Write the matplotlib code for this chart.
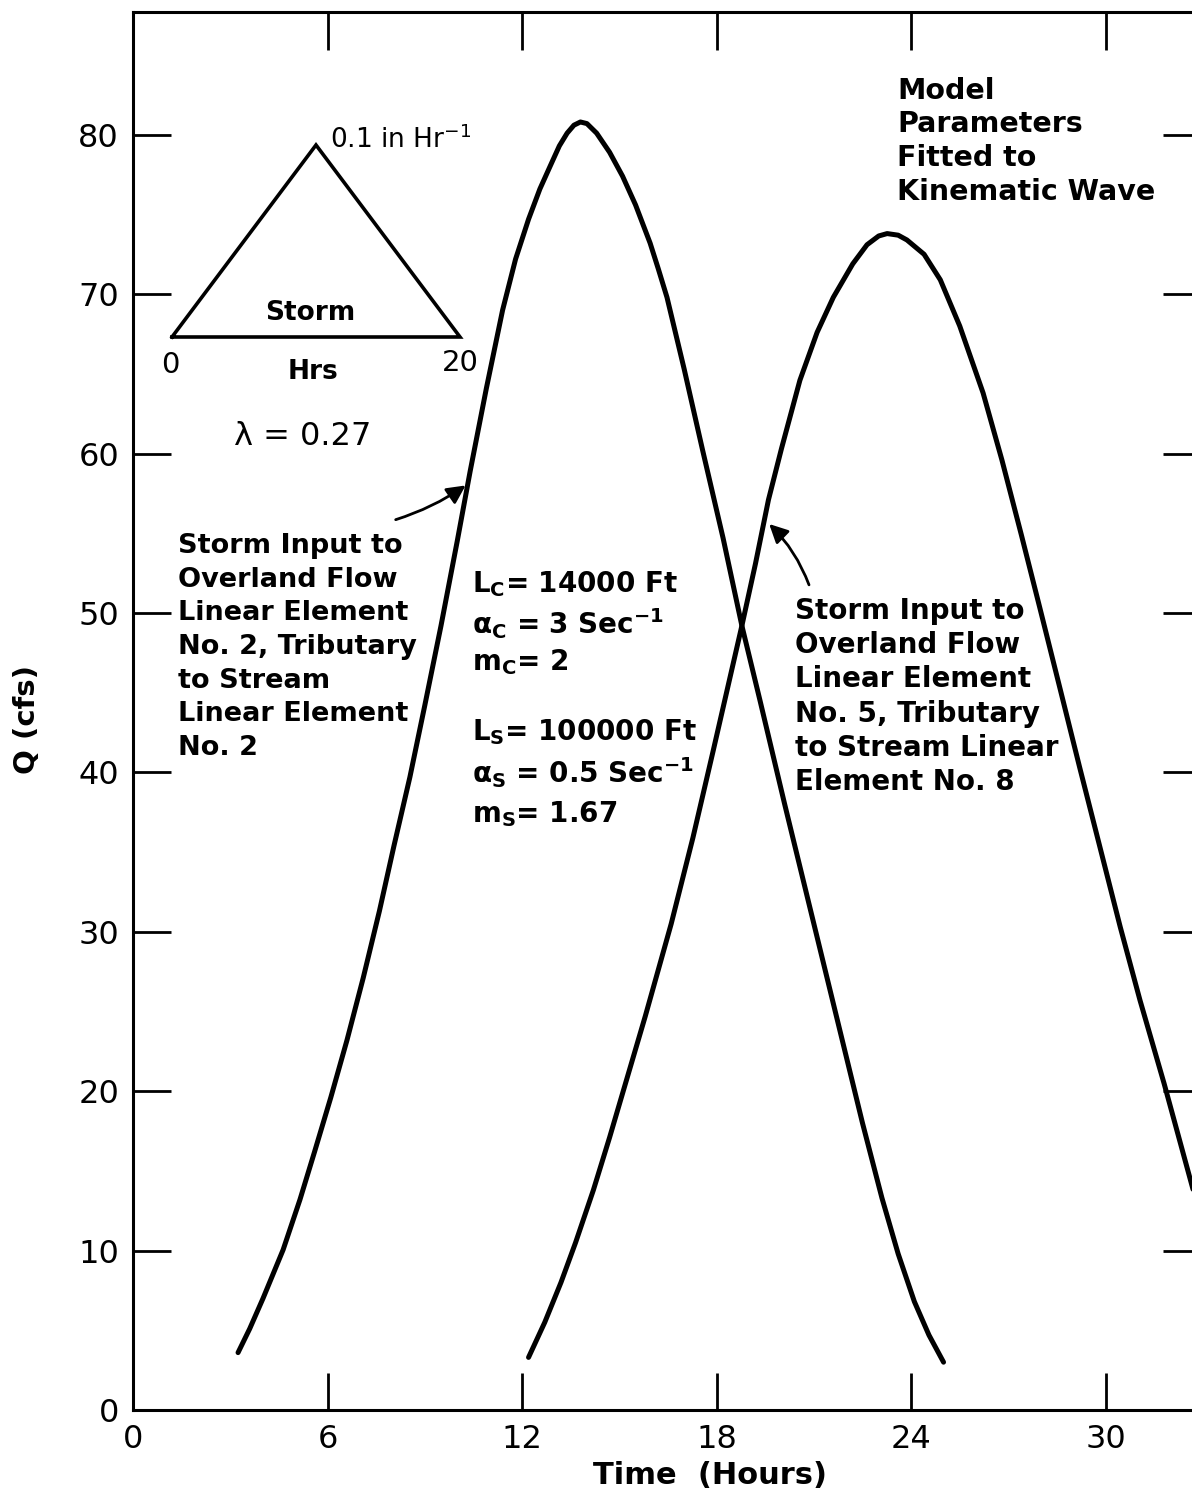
import matplotlib
matplotlib.use("Agg")
import matplotlib.pyplot as plt

# hydrographs (time in hours, Q in cfs)
curve1_t = [3.24, 3.6, 4.01, 4.63, 5.15, 5.6, 6.1, 6.6, 7.1, 7.6, 8.05, 8.54, 9.0, 9.5, 10.0,
            10.4, 10.9, 11.4, 11.8, 12.2, 12.55, 12.86, 13.15, 13.39, 13.6, 13.8, 14.0, 14.3,
            14.7, 15.1, 15.5, 15.95, 16.2, 16.47, 17.0, 17.57, 18.2, 18.78, 19.34, 20.1, 20.7,
            21.3, 21.9, 22.5, 23.1, 23.6, 24.1, 24.55, 25.0]
curve1_q = [3.6, 5.1, 7.0, 10.05, 13.2, 16.2, 19.6, 23.2, 27.1, 31.3, 35.4, 39.7, 44.2, 49.2, 54.5,
            58.9, 64.1, 69.0, 72.2, 74.7, 76.6, 78.0, 79.3, 80.1, 80.6, 80.8, 80.7, 80.1,
            78.9, 77.4, 75.6, 73.2, 71.6, 69.8, 65.3, 60.2, 54.7, 49.2, 44.5, 38.0, 33.0,
            28.0, 23.0, 18.0, 13.3, 9.8, 6.8, 4.7, 3.0]

curve2_t = [12.2, 12.7, 13.2, 13.65, 14.2, 14.7, 15.25, 15.8, 16.6, 17.27, 17.9, 18.78, 19.2,
            19.6, 20.0, 20.57, 21.1, 21.6, 22.2, 22.64, 23.0, 23.26, 23.6, 23.87, 24.4, 24.9,
            25.5, 26.22, 26.8, 27.4, 27.96, 28.6, 29.2, 29.85, 30.45, 31.06, 31.8, 32.7, 33.4]
curve2_q = [3.3, 5.5, 8.0, 10.5, 13.8, 17.1, 20.9, 24.7, 30.5, 35.9, 41.4, 49.2, 53.1,
            57.1, 60.3, 64.6, 67.6, 69.8, 71.9, 73.1, 73.65, 73.8, 73.7, 73.4, 72.5, 70.9,
            68.0, 63.8, 59.6, 54.9, 50.4, 45.2, 40.3, 35.1, 30.3, 25.7, 20.5, 13.8, 8.6]

# storm input (triangular hyetograph)
storm_hours = [0, 10, 20, 0]
storm_rate = [0, 0.1, 0, 0]

x_ticks = [0, 6, 12, 18, 24, 30]
y_ticks = [0, 10, 20, 30, 40, 50, 60, 70, 80]

params_lines = [r"L$_{C}$= 14000 Ft", r"α$_{C}$ = 3 Sec$^{-1}$", r"m$_{C}$= 2",
                r"L$_{S}$= 100000 Ft", r"α$_{S}$ = 0.5 Sec$^{-1}$", r"m$_{S}$= 1.67"]
params_q = [51.8, 49.3, 46.9, 42.5, 40.0, 37.4]

left_note = "Storm Input to\nOverland Flow\nLinear Element\nNo. 2, Tributary\nto Stream\nLinear Element\nNo. 2"
right_note = "Storm Input to\nOverland Flow\nLinear Element\nNo. 5, Tributary\nto Stream Linear\nElement No. 8"
model_note = "Model\nParameters\nFitted to\nKinematic Wave"

plt.rcParams['font.family'] = ['DejaVu Sans']
plt.rcParams['mathtext.fontset'] = 'dejavusans'
plt.rcParams['mathtext.default'] = 'bf'

W, H = 1192, 1497
fig = plt.figure(figsize=(W / 100, H / 100), dpi=100)
# right spine sits just past the image edge, like the cropped scan
ax = fig.add_axes([133 / W, 1 - 1410 / H, (1200 - 133) / W, (1410 - 12) / H])

for t, q in [(curve1_t, curve1_q), (curve2_t, curve2_q)]:
    ax.plot(t, q, color='black', lw=3.6, solid_capstyle='round', solid_joinstyle='round')

ax.set_xlim(0, 32.91)
ax.set_ylim(0, 87.7)
ax.set_xticks(x_ticks)
ax.set_yticks(y_ticks)
ax.tick_params(direction='in', length=27, width=2, top=True, right=True,
               labelsize=23, pad=10)
for s in ax.spines.values():
    s.set_linewidth(2.2)

fig.text(710 / W, 1 - 1475 / H, "Time  (Hours)", ha='center', va='center',
         fontsize=22, fontweight='bold')
fig.text(27 / W, 1 - 720 / H, "Q (cfs)", ha='center', va='center', rotation=90,
         fontsize=21, fontweight='bold')

# storm schematic
ins = fig.add_axes([172 / W, 1 - 337 / H, 288 / W, 192 / H])
ins.plot(storm_hours, storm_rate, color='black', lw=2.6, solid_joinstyle='miter', clip_on=False)
ins.set_xlim(0, 20)
ins.set_ylim(0, 0.1)
ins.axis('off')
ins.patch.set_alpha(0)
ins.text(11.0, 0.1026, r"0.1 in Hr$^{\mathregular{-1}}$", fontsize=19, va='center', ha='left',
         clip_on=False)
ins.text(9.6, 0.0125, "Storm", fontsize=19, fontweight='bold', ha='center', va='center')
ins.text(-0.14, -0.0146, "0", fontsize=21, ha='center', va='center')
ins.text(9.8, -0.0182, "Hrs", fontsize=19, fontweight='bold', ha='center', va='center')
ins.text(20.0, -0.0135, "20", fontsize=21, ha='center', va='center')

ax.text(5.24, 61.1, "λ = 0.27", fontsize=23, ha='center', va='center')

ax.text(1.39, 55.0, left_note, fontsize=19.5, fontweight='bold', ha='left', va='top',
        linespacing=1.38)
ax.text(20.42, 51.0, right_note, fontsize=20, fontweight='bold', ha='left', va='top',
        linespacing=1.28)
ax.text(23.57, 83.65, model_note, fontsize=20.5, fontweight='bold', ha='left', va='top',
        linespacing=1.27)

for line, q in zip(params_lines, params_q):
    ax.text(10.46, q, line, fontsize=20, fontweight='bold', ha='left', va='center')

ax.annotate("", xy=(10.33, 58.1), xytext=(8.02, 55.8),
            arrowprops=dict(arrowstyle='-|>', lw=2, color='black', mutation_scale=28,
                            connectionstyle='arc3,rad=0.08'))
ax.annotate("", xy=(19.56, 55.7), xytext=(20.88, 51.6),
            arrowprops=dict(arrowstyle='-|>', lw=2, color='black', mutation_scale=28,
                            connectionstyle='arc3,rad=0.12'))

fig.savefig("out.png", dpi=100)
